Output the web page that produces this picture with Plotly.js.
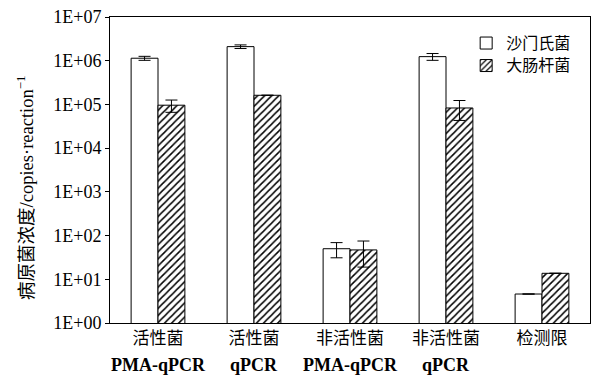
<!DOCTYPE html>
<html>
<head>
<meta charset="utf-8">
<script src="https://cdn.plot.ly/plotly-3.0.1.min.js"></script>
<style>html,body{margin:0;padding:0;background:#fff;}#chart{width:592px;height:376px;}</style>
</head>
<body>
<div id="chart"></div>
<script>
// ---- data ----
var catLine1 = ["活性菌", "活性菌", "非活性菌", "非活性菌", "检测限"];
var catLine2 = ["PMA-qPCR", "qPCR", "PMA-qPCR", "qPCR", ""];
var seriesNames = ["沙门氏菌", "大肠杆菌"];
var salmonella = [1.14e6, 2.1e6, 50, 1.24e6, 4.6];
var salmonellaErr = [1.2e5, 2.0e5, 19, 2.2e5, null];
var ecoli = [9.6e4, 1.62e5, 47, 8.3e4, 13.7];
var ecoliErr = [3.0e4, null, 28, 4.0e4, null];
var yTickVals = [1, 10, 100, 1000, 10000, 100000, 1000000, 10000000];
var yTickText = ["1E+00", "1E+01", "1E+02", "1E+03", "1E+04", "1E+05", "1E+06", "1E+07"];

var FONT = "'Liberation Serif', 'Times New Roman', 'Noto Sans CJK SC', serif";
var xIdx = catLine1.map(function (_, i) { return i; });

var errStyle = {type: "data", visible: true, color: "#000", thickness: 1, width: 6};

var traces = [
  {
    type: "bar", name: "<span style='font-size:16px'>" + seriesNames[0] + "</span>", x: xIdx, y: salmonella,
    marker: {color: "#fff", line: {color: "#000", width: 1}},
    error_y: Object.assign({array: salmonellaErr}, errStyle)
  },
  {
    type: "bar", name: "<span style='font-size:16px'>" + seriesNames[1] + "</span>", x: xIdx, y: ecoli,
    marker: {color: "#fff", line: {color: "#000", width: 1},
             pattern: {shape: "/", fgcolor: "#000", bgcolor: "#fff", size: 5, solidity: 0.3}},
    error_y: Object.assign({array: ecoliErr}, errStyle)
  }
];

// second line of category labels, placed at each category through the x axis
var line2Annotations = [];
catLine2.forEach(function (t, i) {
  if (!t) return;
  line2Annotations.push({
    text: "<b>" + t + "</b>", xref: "x", yref: "paper", x: xIdx[i], y: 0,
    yshift: -42, xanchor: "center", yanchor: "middle", showarrow: false,
    font: {family: FONT, size: 18, color: "#000"}
  });
});

var layout = {
  width: 592, height: 376,
  margin: {l: 110, r: 2, t: 17, b: 53},
  paper_bgcolor: "#fff", plot_bgcolor: "#fff",
  font: {family: FONT, color: "#000", size: 17},
  barmode: "group", bargap: 0.44, bargroupgap: 0,
  showlegend: true,
  legend: {x: 0.742, y: 0.968, xanchor: "left", yanchor: "top", bgcolor: "rgba(0,0,0,0)",
           font: {family: "'Noto Sans CJK SC', sans-serif", size: 15}, tracegroupgap: 0},
  xaxis: {
    range: [-0.5, 4.5], tickmode: "array", tickvals: xIdx, ticktext: catLine1,
    showline: true, linecolor: "#000", linewidth: 1, mirror: true,
    ticks: "", showgrid: false, zeroline: false,
    tickfont: {family: FONT, size: 17, color: "#000"}
  },
  yaxis: {
    type: "log", range: [0, 7], tickmode: "array", tickvals: yTickVals, ticktext: yTickText,
    showline: true, linecolor: "#000", linewidth: 1, mirror: true,
    ticks: "outside", ticklen: 4, tickcolor: "#000", tickwidth: 1,
    showgrid: false, zeroline: false,
    tickfont: {family: FONT, size: 18, color: "#000"}
  },
  annotations: [{
    text: "病原菌浓度/copies·reaction<sup>−1</sup>",
    xref: "paper", yref: "paper", x: -0.176, y: 0.44, textangle: -90,
    showarrow: false, xanchor: "center", yanchor: "middle",
    font: {family: FONT, size: 18.5, color: "#000"}
  }].concat(line2Annotations)
};

Plotly.newPlot("chart", traces, layout, {staticPlot: true, displayModeBar: false});
</script>
</body>
</html>
